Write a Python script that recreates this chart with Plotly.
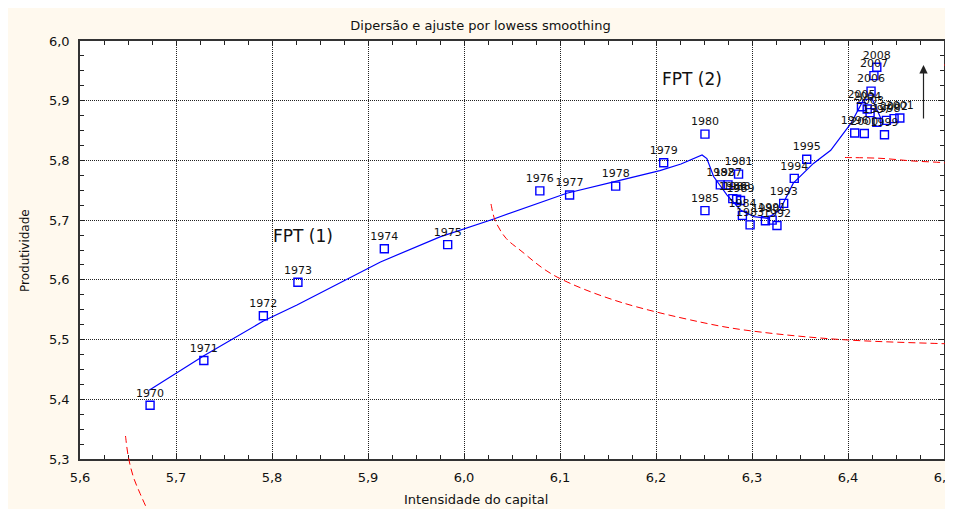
import plotly.graph_objects as go

# ---------------- data ----------------
years = [1970, 1971, 1972, 1973, 1974, 1975, 1976, 1977, 1978, 1979,
         1980, 1981, 1982, 1983, 1984, 1985, 1986, 1987, 1988, 1989,
         1990, 1991, 1992, 1993, 1994, 1995, 1996, 1997, 1998, 1999,
         2000, 2001, 2002, 2003, 2004, 2005, 2006, 2007, 2008]
capital = [5.673, 5.729, 5.791, 5.827, 5.917, 5.983, 6.079, 6.110, 6.158, 6.208,
           6.251, 6.286, 6.267, 6.298, 6.290, 6.251, 6.280, 6.275, 6.284, 6.288,
           6.314, 6.321, 6.326, 6.333, 6.344, 6.357, 6.407, 6.430, 6.440, 6.438,
           6.417, 6.454, 6.448, 6.423, 6.420, 6.414, 6.424, 6.427, 6.430]
produtividade = [5.390, 5.465, 5.540, 5.596, 5.652, 5.659, 5.749, 5.742, 5.757, 5.796,
                 5.844, 5.777, 5.759, 5.692, 5.708, 5.716, 5.736, 5.759, 5.735, 5.733,
                 5.699, 5.700, 5.691, 5.728, 5.770, 5.802, 5.846, 5.864, 5.867, 5.843,
                 5.845, 5.871, 5.870, 5.880, 5.886, 5.890, 5.916, 5.942, 5.956]

lowess_x = [5.672, 5.729, 5.791, 5.826, 5.913, 5.975, 6.031, 6.083, 6.107, 6.158,
            6.204, 6.226, 6.248, 6.253, 6.260, 6.274, 6.288, 6.302, 6.316, 6.329,
            6.343, 6.364, 6.382, 6.403, 6.416, 6.425, 6.430, 6.434]
lowess_y = [5.415, 5.473, 5.531, 5.558, 5.630, 5.672, 5.702, 5.731, 5.745, 5.765,
            5.783, 5.794, 5.809, 5.803, 5.773, 5.742, 5.717, 5.706, 5.703, 5.717,
            5.762, 5.795, 5.817, 5.862, 5.901, 5.904, 5.884, 5.871]

x_ticks = [5.6, 5.7, 5.8, 5.9, 6.0, 6.1, 6.2, 6.3, 6.4, 6.5]
y_ticks = [5.3, 5.4, 5.5, 5.6, 5.7, 5.8, 5.9, 6.0]

# ---------------- layout geometry ----------------
# The page body has an 8px margin, so the figure starts at page pixel (8, 8).
OFF = 8
W, H = 945, 501
L, R, T, B = 72, 9, 33, 50
PW, PH = W - L - R, H - T - B


def px(page_x):
    return (page_x - OFF - L) / PW


def py(page_y):
    return (H - B - (page_y - OFF)) / PH


def smooth_path(pts):
    """Catmull-Rom spline through page-pixel points, returned in paper coords."""
    P = [(px(a), py(b)) for a, b in pts]
    d = f"M {P[0][0]:.5f},{P[0][1]:.5f}"
    for i in range(len(P) - 1):
        p0 = P[i - 1] if i > 0 else P[i]
        p1, p2 = P[i], P[i + 1]
        p3 = P[i + 2] if i + 2 < len(P) else P[i + 1]
        c1 = (p1[0] + (p2[0] - p0[0]) / 6, p1[1] + (p2[1] - p0[1]) / 6)
        c2 = (p2[0] - (p3[0] - p1[0]) / 6, p2[1] - (p3[1] - p1[1]) / 6)
        d += f" C {c1[0]:.5f},{c1[1]:.5f} {c2[0]:.5f},{c2[1]:.5f} {p2[0]:.5f},{p2[1]:.5f}"
    return d


FONT = "DejaVu Sans, Arial, sans-serif"
CREAM = "#FFF9EE"

fig = go.Figure()
fig.add_trace(go.Scatter(
    x=lowess_x, y=lowess_y, mode="lines",
    line=dict(color="#0000FF", width=1.2), hoverinfo="skip", showlegend=False))
fig.add_trace(go.Scatter(
    x=capital, y=produtividade, mode="markers+text",
    text=[str(y) for y in years], textposition="top center",
    textfont=dict(family=FONT, size=11, color="#111111"),
    marker=dict(symbol="square-open", size=8, color="#0000FF",
                line=dict(width=1.4, color="#0000FF")),
    cliponaxis=False, showlegend=False))

red = dict(color="#FF0000", width=1, dash="7px,4px")
shapes = [
    dict(type="path", xref="paper", yref="paper", line=red,
         path=smooth_path([(491, 204), (495, 220), (505, 237), (520, 250), (557, 277),
                           (620, 302), (700, 322), (760, 332), (848, 340), (953, 344)])),
    dict(type="path", xref="paper", yref="paper", line=red,
         path=smooth_path([(845, 157.5), (880, 158.3), (913, 161), (943, 162.7), (953, 165.5)])),
    dict(type="path", xref="paper", yref="paper", line=red,
         path=smooth_path([(125.5, 436), (128.3, 456.7), (133.3, 476.7), (140, 493.3), (147, 509)])),
    dict(type="line", xref="paper", yref="paper", x0=px(944), x1=px(953), y0=py(65), y1=py(65),
         line=dict(color="#FF0000", width=1)),
]

annotations = [
    dict(text="FPT (1)", x=5.832, y=5.674, xref="x", yref="y", showarrow=False,
         font=dict(family=FONT, size=17, color="#111")),
    dict(text="FPT (2)", x=6.238, y=5.937, xref="x", yref="y", showarrow=False,
         font=dict(family=FONT, size=17, color="#111")),
    dict(text="Produtividade", xref="paper", yref="paper", x=px(25), y=py(250),
         xanchor="center", yanchor="middle",
         textangle=-90, showarrow=False, font=dict(family=FONT, size=12, color="#111")),
    dict(text="Intensidade do capital", xref="paper", yref="paper", x=px(476), y=py(500),
         xanchor="center", yanchor="middle",
         showarrow=False, font=dict(family=FONT, size=13, color="#111")),
    dict(text="", xref="paper", yref="paper", x=px(923.5), y=py(65),
         ax=0, ay=55, showarrow=True, arrowhead=2, arrowsize=1.4, arrowwidth=1.2,
         arrowcolor="#222"),
]

axis_common = dict(
    showline=True, linecolor="#333", linewidth=1.5, mirror="ticks",
    ticks="inside", ticklen=5, tickcolor="#222", tickwidth=1,
    showgrid=True, gridcolor="#222", gridwidth=1, griddash="1px,1px",
    zeroline=False, tickfont=dict(family=FONT, size=13, color="#111"),
    ticklabeloverflow="allow",
    minor=dict(ticks="inside", ticklen=4, tickcolor="#222", showgrid=False),
)

fig.update_xaxes(range=[5.6, 6.5], tickvals=x_ticks, tickformat=".1f",
                 minor_dtick=0.025, ticklabelstandoff=6, **axis_common)
fig.update_yaxes(range=[5.3, 6.0], tickvals=y_ticks, tickformat=".1f",
                 minor_dtick=0.025, ticklabelstandoff=6, **axis_common)

fig.update_layout(
    width=W, height=H, margin=dict(l=L, r=R, t=T, b=B, autoexpand=False),
    paper_bgcolor=CREAM, plot_bgcolor="white", separators=",.",
    title=dict(text="Dipersão e ajuste por lowess smoothing", x=0.5, xref="container",
               y=1 - (25 - OFF) / H, yref="container", yanchor="middle", xanchor="center",
               font=dict(family=FONT, size=13, color="#111")),
    shapes=shapes, annotations=annotations,
    font=dict(family=FONT),
)

fig.write_html("out.html")
